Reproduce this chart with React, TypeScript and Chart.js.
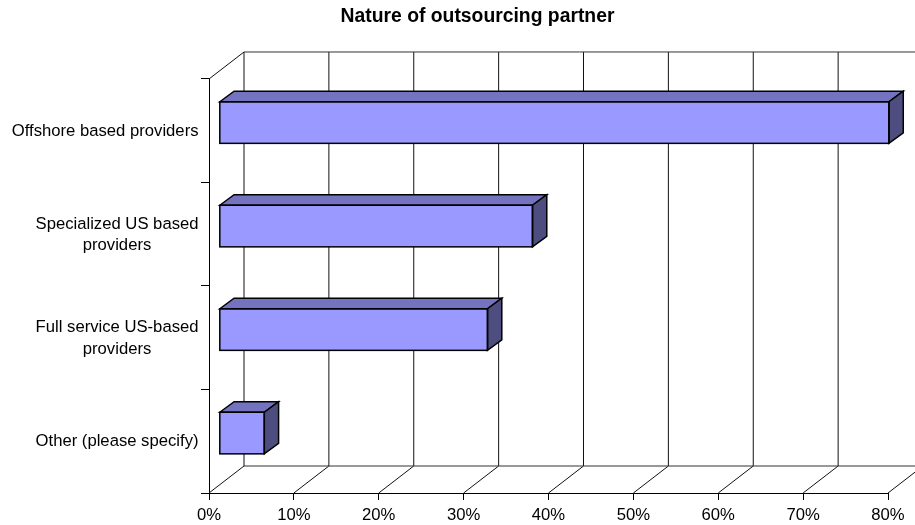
import React, { useEffect, useRef } from "react";
import { Chart, registerables } from "chart.js";

Chart.register(...registerables);

const categories: string[][] = [
  ["Offshore based providers"],
  ["Specialized US based", "providers"],
  ["Full service US-based", "providers"],
  ["Other (please specify)"],
];
const shares: number[] = [78.9, 36.9, 31.6, 5.3];
const chartTitle = "Nature of outsourcing partner";
const FONT = "'Liberation Sans', Arial, sans-serif";
const LABEL_SIZE = 16.67;

const WALL_DX = 35;
const WALL_DY = 27;
const BAR_SHIFT_X = 10.3;
const BAR_SHIFT_Y = 8.2;
const BAR_DX = 14.3;
const BAR_DY = 10.6;

const depthPlugin = {
  id: "depth",
  afterLayout(chart: any) {
    // the title block spans the padded width; move its centre to x = 477.5
    chart.titleBlock.left += 67;
  },
  beforeDatasetsDraw(chart: any) {
    const { ctx, chartArea: a, scales } = chart;
    const x = scales.x;
    ctx.save();
    ctx.lineWidth = 1;
    ctx.strokeStyle = "#111111";
    ctx.beginPath();
    x.ticks.forEach((t: any) => {
      const px = x.getPixelForValue(t.value);
      ctx.moveTo(px, a.bottom);
      ctx.lineTo(px + WALL_DX, a.bottom - WALL_DY);
      ctx.moveTo(px + WALL_DX, a.bottom - WALL_DY);
      ctx.lineTo(px + WALL_DX, a.top - WALL_DY);
    });
    ctx.moveTo(a.left, a.top);
    ctx.lineTo(a.left + WALL_DX, a.top - WALL_DY);
    ctx.stroke();
    ctx.strokeStyle = "#333333";
    ctx.beginPath();
    ctx.moveTo(a.left + WALL_DX, a.top - WALL_DY);
    ctx.lineTo(chart.width, a.top - WALL_DY);
    ctx.moveTo(a.left + WALL_DX, a.bottom - WALL_DY);
    ctx.lineTo(chart.width, a.bottom - WALL_DY);
    ctx.stroke();
    ctx.restore();

    // category labels: right-aligned blocks whose lines are centred
    const y = scales.y;
    ctx.save();
    ctx.font = `${LABEL_SIZE}px ${FONT}`;
    ctx.fillStyle = "#000000";
    ctx.textBaseline = "middle";
    ctx.textAlign = "center";
    categories.forEach((lines, i) => {
      const widest = Math.max(...lines.map((l) => ctx.measureText(l).width));
      const cx = 198.5 - widest / 2;
      const cy = y.getPixelForTick(i) + 0.5;
      lines.forEach((l, k) => {
        ctx.fillText(l, cx, cy + (k - (lines.length - 1) / 2) * 21.5);
      });
    });
    ctx.restore();

    ctx.save();
    ctx.translate(BAR_SHIFT_X, -BAR_SHIFT_Y);
  },
  afterDatasetsDraw(chart: any) {
    const { ctx } = chart;
    const bars = chart.getDatasetMeta(0).data;
    ctx.lineWidth = 1.5;
    ctx.strokeStyle = "#000000";
    ctx.lineJoin = "miter";
    bars.forEach((b: any) => {
      const { x, y, base, height } = b.getProps(["x", "y", "base", "height"]);
      const top = y - height / 2;
      const bottom = y + height / 2;
      ctx.fillStyle = "#7373BF";
      ctx.beginPath();
      ctx.moveTo(base, top);
      ctx.lineTo(base + BAR_DX, top - BAR_DY);
      ctx.lineTo(x + BAR_DX, top - BAR_DY);
      ctx.lineTo(x, top);
      ctx.closePath();
      ctx.fill();
      ctx.stroke();
      ctx.fillStyle = "#4D4D80";
      ctx.beginPath();
      ctx.moveTo(x, top);
      ctx.lineTo(x + BAR_DX, top - BAR_DY);
      ctx.lineTo(x + BAR_DX, bottom - BAR_DY);
      ctx.lineTo(x, bottom);
      ctx.closePath();
      ctx.fill();
      ctx.stroke();
      ctx.strokeRect(base, top, x - base, bottom - top);
    });
    ctx.restore();
  },
};

export default function App() {
  const ref = useRef<HTMLCanvasElement>(null);
  useEffect(() => {
    const chart = new Chart(ref.current as HTMLCanvasElement, {
      type: "bar",
      data: {
        labels: categories as any,
        datasets: [
          {
            data: shares,
            backgroundColor: "#9999FF",
            borderWidth: 0,
            barPercentage: 1,
            categoryPercentage: 0.402,
            clip: false as any,
          },
        ],
      },
      plugins: [depthPlugin as any],
      options: {
        indexAxis: "y",
        responsive: false,
        animation: false,
        layout: { padding: { left: 0, right: 27, top: 0, bottom: 0 } },
        plugins: {
          legend: { display: false },
          tooltip: { enabled: false },
          title: {
            display: true,
            text: chartTitle,
            color: "#000000",
            font: { family: FONT, size: 19.33, weight: "bold", lineHeight: 1.2 },
            padding: { top: 5, bottom: 50.8 },
          },
        },
        scales: {
          x: {
            type: "linear",
            min: 0,
            max: 80,
            afterFit: (s: any) => {
              s.height = 32;
            },
            ticks: {
              stepSize: 10,
              maxRotation: 0,
              color: "#000000",
              font: { family: FONT, size: LABEL_SIZE },
              padding: 5,
              callback: (v: any) => `${v}%`,
            },
            grid: { drawOnChartArea: false, tickLength: 7, color: "#000000" },
            border: { color: "#000000" },
          },
          y: {
            type: "category",
            afterFit: (s: any) => {
              s.width = 209;
            },
            ticks: { display: false },
            grid: { drawOnChartArea: false, tickLength: 8, color: "#000000", offset: true },
            border: { color: "#000000" },
          },
        },
      },
    });
    return () => chart.destroy();
  }, []);
  return (
    <div style={{ position: "absolute", left: 0, top: 0, width: 915, height: 525, background: "#fff" }}>
      <canvas ref={ref} width={915} height={525} style={{ display: "block" }} />
    </div>
  );
}
